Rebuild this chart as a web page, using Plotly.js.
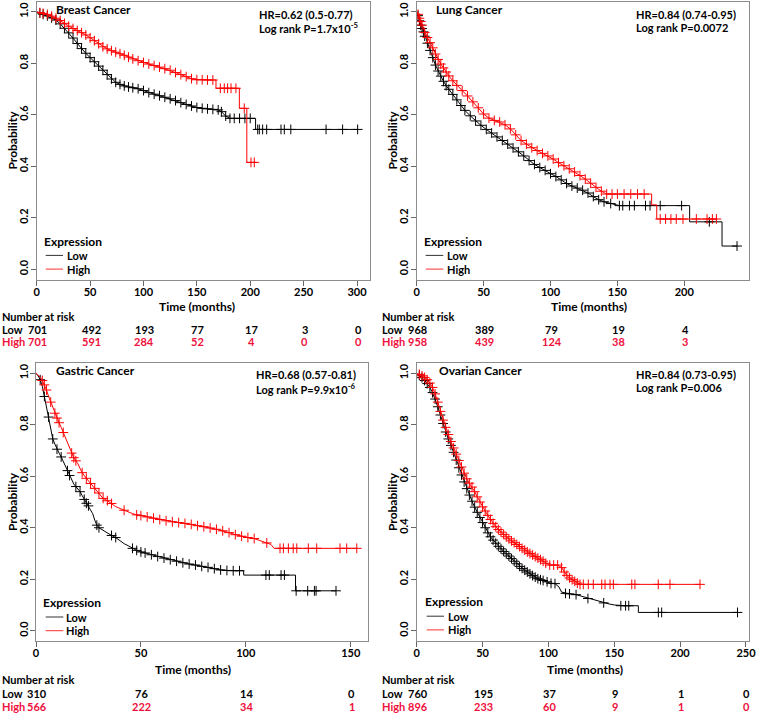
<!DOCTYPE html>
<html>
<head>
<meta charset="utf-8">
<script src="https://cdn.plot.ly/plotly-3.0.1.min.js"></script>
<style>
  html, body { margin: 0; padding: 0; background: #fff; }
  #chart { width: 758px; height: 713px; }
</style>
</head>
<body>
<div id="chart"></div>
<script>
// Kaplan-Meier curves: time (months), survival, and the
// vertices that carry no censor mark (everything else gets a "+")

const breastLowT = [0,3,6,10,14,18,22,26,30,34,38,42,46,50,54,58,62,66,70,74,78,82,86,90,95,100,105,110,115,120,125,130,135,140,145,150,155,160,165,170,173,177,181,185,190,195,200,205,205,207,208.5,211.6,215.4,228.8,231.9,238,271,286.5,300.6];
const breastLowS = [1,.995,.99,.984,.976,.968,.953,.936,.918,.898,.877,.857,.839,.822,.806,.789,.773,.756,.739,.726,.718,.712,.708,.705,.701,.694,.686,.68,.674,.668,.662,.655,.647,.64,.634,.628,.625,.623,.621,.619,.612,.595,.586,.586,.586,.586,.586,.586,.543,.543,.543,.543,.543,.543,.543,.543,.543,.543,.543];
const breastLowUnmarked = [0,205];

const breastHighT = [0,3,6,10,14,18,22,26,30,34,38,42,46,50,54,58,62,66,70,74,78,82,86,90,95,100,105,110,115,120,125,130,135,140,145,150,155,160,165,167.9,167.9,172,175.7,178.8,182,186.6,189.8,189.8,194.4,196.8,196.8,200.7,203.8,206];
const breastHighS = [1,.997,.994,.99,.983,.975,.966,.955,.944,.935,.927,.919,.91,.899,.888,.876,.864,.856,.849,.843,.837,.831,.824,.817,.81,.803,.797,.791,.785,.779,.773,.764,.756,.748,.74,.736,.736,.735,.735,.735,.703,.703,.703,.703,.703,.703,.703,.625,.625,.625,.415,.415,.415,.415];
const breastHighUnmarked = [0,167.9,189.8,196.8,206];

const lungLowT = [0,1,2,3,4,5,6,8,10,12,14,16,18,20,22,24,27,30,33,36,40,44,48,52,56,60,64,68,72,76,80,84,88,92,96,100,104,108,112,116,120,124,128,132,136,140,145,151.5,154,159,162.7,171,174.4,182,198,204,204,218.7,228.2,228.2,239.4];
const lungLowS = [1,.985,.965,.948,.935,.922,.905,.878,.85,.822,.793,.77,.75,.73,.713,.699,.679,.658,.636,.617,.596,.576,.559,.543,.529,.514,.5,.486,.471,.456,.44,.422,.407,.395,.384,.371,.36,.347,.333,.323,.315,.307,.296,.282,.27,.262,.255,.247,.247,.247,.247,.247,.247,.247,.247,.247,.184,.184,.184,.09,.09];
const lungLowUnmarked = [0,204,228.2];

const lungHighT = [0,1,2,3,4,6,8,10,12,14,16,18,20,22,24,27,30,34,38,42,46,50,54,58,62,66,70,74,78,82,86,90,94,98,102,106,110,114,118,122,126,130,134,138,142,146,150,155,160,165,170,175.6,175.6,179.4,179.4,182,186,190,194,199,209,217,221,224];
const lungHighS = [1,.99,.975,.962,.948,.92,.9,.88,.86,.836,.815,.797,.782,.766,.751,.732,.714,.694,.673,.65,.627,.603,.587,.578,.572,.561,.545,.522,.5,.486,.472,.461,.45,.44,.428,.414,.402,.39,.378,.364,.35,.334,.318,.303,.292,.292,.292,.292,.292,.292,.292,.292,.25,.25,.195,.195,.195,.195,.195,.195,.195,.195,.195,.195];
const lungHighUnmarked = [0,175.6,179.4];

const gastricLowT = [0,1,2,3,4,5,6,7,8,9,10,11,12,13,14,15,16,17,18,19,20,21,22,23,24,25,26,27,28,29,30,32,34,36,38,40,42,44,46,48,50,52,55,58,61,64,67,70,73,76,79,82,85,88,91,94,97,99,99,104,105,109.6,111.2,116.8,118.4,123.7,123.7,124,129.5,132.7,133.5,143];
const gastricLowS = [1,.99,.975,.95,.91,.87,.83,.79,.745,.725,.705,.69,.675,.658,.64,.622,.603,.585,.57,.56,.552,.54,.525,.51,.495,.485,.47,.455,.43,.41,.4,.39,.378,.37,.362,.35,.338,.33,.32,.312,.306,.302,.295,.288,.282,.276,.27,.264,.259,.255,.25,.246,.241,.236,.234,.233,.233,.233,.216,.216,.216,.216,.216,.216,.216,.216,.155,.155,.155,.155,.155,.155];
const gastricLowUnmarked = [0,1,3,5,7,9,11,13,14,17,18,20,22,26,27,28,32,34,40,42,44,99,104,105,123.7];

const gastricHighT = [0,2,3,4,5,6,7,8,9,10,11,12,13,14,15,16,17,18,19,20,21,22,24,26,28,30,32,34,36,38,40,42,44,46,48,50,53,56,59,62,65,68,71,74,77,80,83,86,89,92,95,98,101,104,107,110,112,113.5,116.3,117.9,120.3,122.6,124.3,129.8,133.8,144.9,148.1,152.9];
const gastricHighS = [1,.985,.972,.955,.935,.91,.888,.866,.845,.826,.808,.79,.77,.75,.73,.71,.69,.672,.66,.648,.63,.614,.592,.572,.553,.535,.514,.505,.494,.482,.475,.468,.46,.455,.45,.447,.442,.437,.432,.427,.423,.42,.417,.413,.408,.404,.399,.394,.388,.381,.373,.367,.362,.358,.35,.341,.335,.32,.32,.32,.32,.32,.32,.32,.32,.32,.32,.32];
const gastricHighUnmarked = [0,2,6,8,12,14,15,16,20,21,38,40,44,46,107,112,113.5];

const ovarianLowT = [0,2,4,6,8,10,12,14,16,18,20,22,24,26,28,30,32,34,36,38,40,42,44,46,48,50,52,54,56,58,60,62,64,66,68,70,72,74,76,78,80,82,84,86,88,90,92,94,96,99,102,105,108,110,113,116,121,126,130,134,138,142,146,150,155,158.6,161,168.3,168.3,183.5,186,243.6];
const ovarianLowS = [1,.993,.983,.972,.96,.945,.925,.9,.87,.838,.805,.772,.745,.72,.693,.663,.633,.605,.578,.552,.527,.503,.48,.46,.44,.42,.4,.38,.365,.352,.34,.328,.318,.308,.299,.29,.28,.27,.26,.25,.242,.235,.228,.221,.214,.208,.202,.198,.195,.19,.184,.183,.17,.15,.145,.143,.14,.133,.125,.119,.114,.108,.104,.1,.097,.097,.097,.097,.071,.071,.071,.071];
const ovarianLowUnmarked = [0,108,110,126,134,138,146,150,168.3];

const ovarianHighT = [0,2,4,6,8,10,12,14,16,18,20,22,24,26,28,30,32,34,36,38,40,42,44,46,48,50,52,54,56,58,60,62,64,66,68,70,72,74,76,78,80,82,84,86,88,90,92,94,96,98,101,104,107,110,112,114,116,118,120,122,124,126.5,130.3,134.1,140.5,143,146.8,149.3,163.3,165.7,183.4,192.3,215.1];
const ovarianHighS = [1,.996,.99,.984,.975,.962,.945,.92,.888,.852,.818,.79,.762,.735,.71,.686,.661,.636,.612,.59,.573,.558,.54,.52,.5,.481,.465,.448,.432,.417,.404,.393,.383,.374,.365,.357,.349,.342,.335,.327,.32,.313,.306,.3,.294,.288,.282,.276,.27,.262,.255,.255,.255,.245,.228,.215,.205,.198,.192,.185,.18,.18,.18,.18,.18,.18,.18,.18,.18,.18,.18,.18,.18];
const ovarianHighUnmarked = [0];

// number at risk tables
const breastRiskTimes = [0,50,100,150,200,250,300];
const breastRiskLow = [701,492,193,77,17,3,0];
const breastRiskHigh = [701,591,284,52,4,0,0];
const lungRiskTimes = [0,50,100,150,200];
const lungRiskLow = [968,389,79,19,4];
const lungRiskHigh = [958,439,124,38,3];
const gastricRiskTimes = [0,50,100,150];
const gastricRiskLow = [310,76,14,0];
const gastricRiskHigh = [566,222,34,1];
const ovarianRiskTimes = [0,50,100,150,200,250];
const ovarianRiskLow = [760,195,37,9,1,0];
const ovarianRiskHigh = [896,233,60,9,1,0];

// ---------------------------------------------------------------------------
const W = 758, H = 713;
const px = x => x / W;
const py = y => 1 - y / H;
const BLACK = '#000000', RED = '#ff0000', TXT_RED = '#f0103c';
const FAMILY = 'Lato, "Open Sans", sans-serif';
const FONT = { family: FAMILY, size: 12, color: '#000', weight: 'bold' };
const SMALL = { family: FAMILY, size: 11, color: '#000', weight: 'bold' };
const SMALL_RED = { family: FAMILY, size: 11, color: TXT_RED, weight: 'bold' };

// pixel boxes / text anchors for each panel
const panels = [
  { name: 'Breast Cancer', hr: 'HR=0.62 (0.5-0.77)', lr: 'Log rank P=1.7x10<sup>-5</sup>',
    low: [breastLowT, breastLowS, breastLowUnmarked], high: [breastHighT, breastHighS, breastHighUnmarked],
    risk: [breastRiskTimes, breastRiskLow, breastRiskHigh],
    x0: 36.7, pxPerMonth: 1.0677, xmax: 312, top: 1.5, bottom: 279.5,
    title: [54, 9], hrAt: [257, 14.3, 27.6], probX: 12, timeAt: [197, 306],
    leg: { ex: 41.7, l0: 45.7, l1: 63, tx: 65, y: [241, 255.4, 269.1] },
    rows: [316, 329, 342], labelX: 0 },
  { name: 'Lung Cancer', hr: 'HR=0.84 (0.74-0.95)', lr: 'Log rank P=0.0072',
    low: [lungLowT, lungLowS, lungLowUnmarked], high: [lungHighT, lungHighS, lungHighUnmarked],
    risk: [lungRiskTimes, lungRiskLow, lungRiskHigh],
    x0: 416.7, pxPerMonth: 1.338, xmax: 248.5, top: 1.5, bottom: 279.5,
    title: [434, 9], hrAt: [634, 14.3, 27.6], probX: 392, timeAt: [588.8, 306],
    leg: { ex: 421.7, l0: 425.7, l1: 443.3, tx: 445.3, y: [241, 255.4, 269.1] },
    rows: [316, 329, 342], labelX: 380 },
  { name: 'Gastric Cancer', hr: 'HR=0.68 (0.57-0.81)', lr: 'Log rank P=9.9x10<sup>-6</sup>',
    low: [gastricLowT, gastricLowS, gastricLowUnmarked], high: [gastricHighT, gastricHighS, gastricHighUnmarked],
    risk: [gastricRiskTimes, gastricRiskLow, gastricRiskHigh],
    x0: 36, pxPerMonth: 2.098, xmax: 158.3, top: 363, bottom: 641,
    title: [54, 370.7], hrAt: [254.3, 375, 388.3], probX: 12, timeAt: [192.8, 669],
    leg: { ex: 41, l0: 45.7, l1: 63.3, tx: 64.3, y: [602.3, 617, 630.7] },
    rows: [679, 693, 706], labelX: 0 },
  { name: 'Ovarian Cancer', hr: 'HR=0.84 (0.73-0.95)', lr: 'Log rank P=0.006',
    low: [ovarianLowT, ovarianLowS, ovarianLowUnmarked], high: [ovarianHighT, ovarianHighS, ovarianHighUnmarked],
    risk: [ovarianRiskTimes, ovarianRiskLow, ovarianRiskHigh],
    x0: 416.7, pxPerMonth: 1.317, xmax: 252, top: 363, bottom: 641,
    title: [437, 370.7], hrAt: [634.3, 374.6, 387.9], probX: 392, timeAt: [585, 669],
    leg: { ex: 422.7, l0: 426.7, l1: 444, tx: 446, y: [601.7, 616.2, 629.9] },
    rows: [679, 693, 706], labelX: 380 }
];

function curve(T, S, unmarked, color, xa, ya) {
  const ct = [], cs = [];
  T.forEach((t, i) => { if (!unmarked.includes(t)) { ct.push(t); cs.push(S[i]); } });
  return [
    { x: T, y: S, xaxis: xa, yaxis: ya, type: 'scatter', mode: 'lines',
      line: { color: color, width: 1 }, hoverinfo: 'skip', showlegend: false },
    { x: ct, y: cs, xaxis: xa, yaxis: ya, type: 'scatter', mode: 'markers',
      marker: { symbol: 'cross-thin', size: 7, color: color, line: { color: color, width: 1 } },
      hoverinfo: 'skip', showlegend: false }
  ];
}

const traces = [];
const annotations = [];
const shapes = [];
const layout = {
  width: W, height: H,
  margin: { l: 0, r: 0, t: 0, b: 0 },
  paper_bgcolor: '#fff', plot_bgcolor: '#fff',
  font: FONT,
  showlegend: false
};

panels.forEach((p, i) => {
  const k = i === 0 ? '' : String(i + 1);
  const xa = 'x' + k, ya = 'y' + k;
  const right = p.x0 + p.xmax * p.pxPerMonth;

  traces.push(...curve(p.low[0], p.low[1], p.low[2], BLACK, xa, ya));
  traces.push(...curve(p.high[0], p.high[1], p.high[2], RED, xa, ya));

  const axisStyle = {
    showline: true, mirror: true, linecolor: '#8c8c8c', linewidth: 1,
    ticks: 'outside', ticklen: 5, tickcolor: '#666', tickwidth: 1,
    showgrid: false, zeroline: false, tickfont: SMALL, fixedrange: true
  };
  layout['xaxis' + k] = Object.assign({
    domain: [px(p.x0), px(right)], anchor: ya, range: [0, p.xmax],
    tickmode: 'linear', tick0: 0, dtick: 50, ticklabelstandoff: -3
  }, axisStyle);
  layout['yaxis' + k] = Object.assign({
    domain: [py(p.bottom), py(p.top)], anchor: xa, range: [-0.04, 1.04],
    tickvals: [0, 0.2, 0.4, 0.6, 0.8, 1.0], tickformat: '.1f', tickangle: -90,
    ticklabelstandoff: -2
  }, axisStyle);

  const txt = (text, x, y, extra) => Object.assign({
    text: text, x: px(x), y: py(y), xref: 'paper', yref: 'paper',
    xanchor: 'left', yanchor: 'middle', showarrow: false, font: FONT
  }, extra || {});

  annotations.push(txt(p.name, p.title[0], p.title[1]));
  annotations.push(txt(p.hr, p.hrAt[0], p.hrAt[1], { font: SMALL }));
  annotations.push(txt(p.lr, p.hrAt[0], p.hrAt[2], { font: SMALL }));
  annotations.push(txt('Probability', p.probX, (p.top + p.bottom) / 2, { xanchor: 'center', textangle: -90 }));
  annotations.push(txt('Time (months)', p.timeAt[0], p.timeAt[1], { xanchor: 'center' }));

  // legend
  annotations.push(txt('Expression', p.leg.ex, p.leg.y[0]));
  annotations.push(txt('Low', p.leg.tx, p.leg.y[1], { font: SMALL }));
  annotations.push(txt('High', p.leg.tx, p.leg.y[2], { font: SMALL }));
  shapes.push({ type: 'line', xref: 'paper', yref: 'paper', x0: px(p.leg.l0), x1: px(p.leg.l1),
    y0: py(p.leg.y[1]), y1: py(p.leg.y[1]), line: { color: '#333', width: 1 } });
  shapes.push({ type: 'line', xref: 'paper', yref: 'paper', x0: px(p.leg.l0), x1: px(p.leg.l1),
    y0: py(p.leg.y[2]), y1: py(p.leg.y[2]), line: { color: '#ff3030', width: 1 } });

  // number at risk
  annotations.push(txt('Number at risk', p.labelX, p.rows[0], { font: SMALL }));
  annotations.push(txt('Low', p.labelX, p.rows[1], { font: SMALL }));
  annotations.push(txt('High', p.labelX, p.rows[2], { font: SMALL_RED }));
  const [rt, rl, rh] = p.risk;
  rt.forEach((t, j) => {
    annotations.push({ text: String(rl[j]), x: t, y: py(p.rows[1]), xref: xa, yref: 'paper',
      xanchor: 'center', yanchor: 'middle', xshift: 1, showarrow: false, font: SMALL });
    annotations.push({ text: String(rh[j]), x: t, y: py(p.rows[2]), xref: xa, yref: 'paper',
      xanchor: 'center', yanchor: 'middle', xshift: 1, showarrow: false, font: SMALL_RED });
  });
});

layout.annotations = annotations;
layout.shapes = shapes;

Plotly.newPlot('chart', traces, layout, { staticPlot: true, displayModeBar: false });
</script>
</body>
</html>
